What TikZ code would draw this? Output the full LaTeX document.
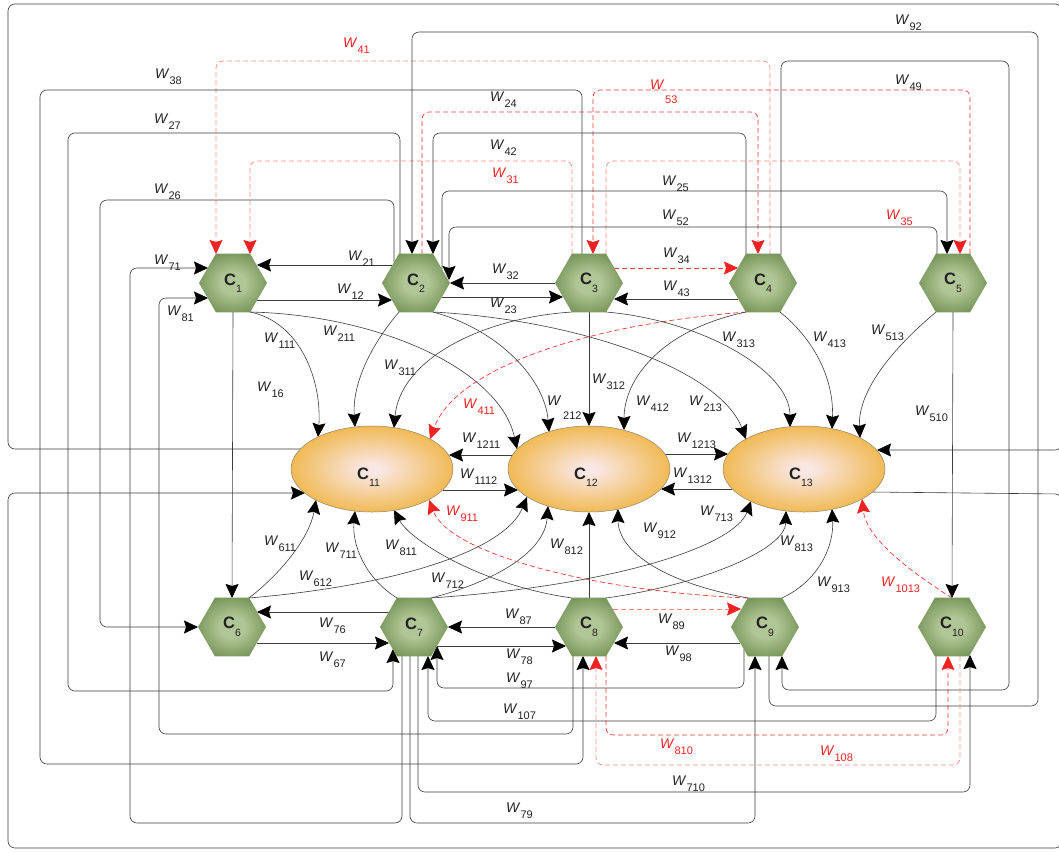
\documentclass[tikz,border=0pt]{standalone}
\usepackage{fontspec}
\setmainfont{Liberation Sans}
\usetikzlibrary{arrows.meta,calc,backgrounds,shapes.geometric}
\definecolor{hexin}{HTML}{B0C696}
\definecolor{hexout}{HTML}{5A7C3A}
\definecolor{ellin}{HTML}{FAE6E2}
\definecolor{ellout}{HTML}{EEAA22}
\definecolor{ellborder}{HTML}{8C8470}
\definecolor{lgray}{HTML}{3C3C3C}
\definecolor{dred}{HTML}{EE3B33}
\definecolor{lred}{HTML}{F58A7E}
\definecolor{ared}{HTML}{EE2222}
\definecolor{txt}{HTML}{222222}
\pgfdeclareradialshading{hexshade}{\pgfpoint{0bp}{0bp}}{color(0bp)=(hexin); color(9bp)=(hexin); color(36bp)=(hexout); color(50bp)=(hexout)}
\pgfdeclareradialshading{ellshade}{\pgfpoint{0bp}{0bp}}{color(0bp)=(ellin); color(3bp)=(ellin); color(33bp)=(ellout); color(50bp)=(ellout)}
\newcommand{\wl}[1]{\textit{W}\raisebox{-6.5pt}{\fontsize{11}{11}\selectfont #1}}
\newcommand{\clab}[1]{\textbf{C}\raisebox{-7.5pt}{\fontsize{10.5}{10}\selectfont\mdseries #1}}
\tikzset{
  hexnode/.style={regular polygon, regular polygon sides=6, minimum size=68pt, inner sep=0pt, shade, shading=hexshade, text=txt, font=\fontsize{16.5}{16}\selectfont},
  ellnode/.style={ellipse, minimum width=162pt, minimum height=86pt, inner sep=0pt, draw=ellborder, line width=0.5pt, shade, shading=ellshade},
  clbl/.style={anchor=base west, inner sep=0pt, text=txt, font=\fontsize{16.5}{16}\selectfont},
  lbl/.style={anchor=base west, inner sep=0pt, text=txt, font=\fontsize{14}{16}\selectfont},
  rlbl/.style={lbl, text=ared},
  conn/.style={draw=lgray, line width=0.6pt, rounded corners=7pt},
  rdash/.style={draw=dred, line width=0.7pt, dash pattern=on 5pt off 3pt, rounded corners=7pt},
  ldash/.style={rdash, draw=lred},
  arr/.style={-{Stealth[length=14pt,width=13pt,inset=2pt,color=black]}},
  rarr/.style={-{Stealth[length=14pt,width=13pt,inset=2pt,color=ared]}}
}
\begin{document}
\begin{tikzpicture}[x=1pt,y=-1pt]
\useasboundingbox (0,0) rectangle (1059,852);
% nodes
\node[hexnode] (C1) at (233,283) {\clab{1}};
\node[hexnode] (C2) at (416,283) {\clab{2}};
\node[hexnode] (C3) at (589,283) {\clab{3}};
\node[hexnode] (C4) at (763,283) {\clab{4}};
\node[hexnode] (C5) at (953,283) {\clab{5}};
\node[hexnode] (C6) at (232,627) {\clab{6}};
\node[hexnode] (C7) at (414,627) {\clab{7}};
\node[hexnode] (C8) at (589,627) {\clab{8}};
\node[hexnode] (C9) at (765,627) {\clab{9}};
\node[hexnode] (C10) at (952,627) {\clab{10}};
\node[ellnode] (C11) at (372,469) {};
\node[ellnode] (C12) at (589,469) {};
\node[ellnode] (C13) at (804,469) {};
\node[clbl] (L11) at ($(C11)+(-15,10)$) {\clab{11}};
\node[clbl] (L12) at ($(C12)+(-15,10)$) {\clab{12}};
\node[clbl] (L13) at ($(C13)+(-15,10)$) {\clab{13}};

\begin{pgfonlayer}{background}
\fill[white] (0,0) rectangle (1059,852);
% top row horizontals
\draw[conn,arr] ($(C2)+(-24,-18)$) -- ($(C1)+(24,-18)$);
\draw[conn,arr] ($(C1)+(24,17)$) -- ($(C2)+(-24,17)$);
\draw[conn,arr] ($(C3)+(-34,0)$) -- ($(C2)+(34,0)$);
\draw[conn,arr] ($(C2)+(26,14)$) -- ($(C3)+(-26,14)$);
\draw[rdash,rarr] ($(C3)+(25,-15)$) -- ($(C4)+(-25,-15)$);
\draw[conn,arr] ($(C4)+(-25,16)$) -- ($(C3)+(25,16)$);
% bottom row horizontals
\draw[conn,arr] ($(C7)+(-25,-15)$) -- ($(C6)+(25,-15)$);
\draw[conn,arr] ($(C6)+(25,16)$) -- ($(C7)+(-25,16)$);
\draw[conn,arr] ($(C8)+(-34,0)$) -- ($(C7)+(34,0)$);
\draw[conn,arr] ($(C7)+(23,19)$) -- ($(C8)+(-23,19)$);
\draw[ldash,rarr] ($(C8)+(24,-18)$) -- ($(C9)+(-24,-18)$);
\draw[conn,arr] ($(C9)+(-25,16)$) -- ($(C8)+(25,16)$);
% ellipse horizontals
\draw[conn,arr] ($(C12)+(-77,-14)$) -- ($(C11)+(77,-14)$);
\draw[conn,arr] ($(C11)+(71,21)$) -- ($(C12)+(-71,21)$);
\draw[conn,arr] ($(C12)+(76,-15)$) -- ($(C13)+(-76,-15)$);
\draw[conn,arr] ($(C13)+(-72,20)$) -- ($(C12)+(72,20)$);
% verticals
\draw[conn,arr] ($(C1)+(0,29)$) -- ($(C6)+(0,-29)$);
\draw[conn,arr] ($(C5)+(0,29)$) -- ($(C10)+(0,-29)$);
% curves top row -> ellipses
\draw[conn,arr] ($(C1)+(17,29)$) .. controls (300,322) and (322,380) .. ($(C11)+(-54,-32)$);
\draw[conn,arr] ($(C1)+(17,29)$) .. controls (380,315) and (500,370) .. ($(C12)+(-72,-20)$);
\draw[conn,arr] ($(C2)+(-17,29)$) .. controls (375,340) and (352,380) .. ($(C11)+(-17,-42)$);
\draw[conn,arr] ($(C3)+(-17,29)$) .. controls (480,318) and (400,360) .. ($(C11)+(22,-41)$);
\draw[rdash,rarr] ($(C4)+(-17,29)$) .. controls (580,325) and (455,370) .. ($(C11)+(58,-30)$);
\draw[conn,arr] ($(C2)+(17,29)$) .. controls (500,330) and (545,380) .. ($(C12)+(-40,-37)$);
\draw[conn,arr] ($(C3)+(0,29)$) -- ($(C12)+(0,-43)$);
\draw[conn,arr] ($(C4)+(-17,29)$) .. controls (660,330) and (624,380) .. ($(C12)+(35,-39)$);
\draw[conn,arr] ($(C2)+(17,29)$) .. controls (580,320) and (720,370) .. ($(C13)+(-58,-30)$);
\draw[conn,arr] ($(C3)+(17,29)$) .. controls (700,320) and (790,370) .. ($(C13)+(-14,-42)$);
\draw[conn,arr] ($(C4)+(17,29)$) .. controls (815,340) and (834,380) .. ($(C13)+(28,-40)$);
\draw[conn,arr] ($(C5)+(-17,29)$) .. controls (885,355) and (858,395) .. ($(C13)+(56,-31)$);
% curves bottom row -> ellipses
\draw[conn,arr] ($(C6)+(17,-29)$) .. controls (285,570) and (310,535) .. ($(C11)+(-56,31)$);
\draw[conn,arr] ($(C6)+(17,-29)$) .. controls (400,585) and (505,550) .. ($(C12)+(-62,28)$);
\draw[conn,arr] ($(C7)+(-17,-29)$) .. controls (365,578) and (352,545) .. ($(C11)+(-17,42)$);
\draw[conn,arr] ($(C7)+(17,-29)$) .. controls (500,580) and (545,550) .. ($(C12)+(-41,37)$);
\draw[conn,arr] ($(C7)+(17,-29)$) .. controls (620,585) and (735,545) .. ($(C13)+(-53,32)$);
\draw[conn,arr] ($(C8)+(-17,-29)$) .. controls (480,585) and (410,540) .. ($(C11)+(22,41)$);
\draw[conn,arr] ($(C8)+(0,-29)$) -- ($(C12)+(0,43)$);
\draw[conn,arr] ($(C8)+(17,-29)$) .. controls (700,585) and (785,550) .. ($(C13)+(-18,42)$);
\draw[rdash,rarr] ($(C9)+(-17,-29)$) .. controls (600,592) and (450,555) .. ($(C11)+(57,31)$);
\draw[conn,arr] ($(C9)+(-17,-29)$) .. controls (650,580) and (618,545) .. ($(C12)+(29,40)$);
\draw[conn,arr] ($(C9)+(17,-29)$) .. controls (820,580) and (834,545) .. ($(C13)+(28,40)$);
\draw[rdash,rarr] ($(C10)+(0,-29)$) .. controls (900,565) and (866,535) .. ($(C13)+(58,30)$);
% routed connectors above
\draw[ldash,rarr] ($(C4)+(7,-29)$) -- (770,61) -- (216,61) -- ($(C1)+(-17,-29)$);
\draw[ldash,rarr] ($(C3)+(-17,-29)$) -- (572,161) -- (250,161) -- ($(C1)+(17,-29)$);
\draw[conn,arr] ($(C9)+(4,29)$) -- (769,706) -- (1038,706) -- (1038,32) -- (412,32) -- ($(C2)+(-4,-29)$);
\draw[conn,arr] ($(C3)+(-7,-29)$) -- (582,90) -- (40,90) -- (40,764) -- (583,764) -- ($(C8)+(-6,29)$);
\draw[rdash,rarr] ($(C5)+(17,-29)$) -- (970,90) -- (593,90) -- ($(C3)+(4,-29)$);
\draw[rdash,rarr] ($(C2)+(6,-29)$) -- (422,112) -- (758,112) -- ($(C4)+(-5,-29)$);
\draw[conn,arr] ($(C2)+(-16,-29)$) -- (400,133) -- (68,133) -- (68,691) -- (393,691) -- ($(C7)+(-21,22)$);
\draw[conn,arr] ($(C4)+(-17,-29)$) -- (746,133) -- (433,133) -- ($(C2)+(17,-29)$);
\draw[ldash,rarr] ($(C3)+(17,-29)$) -- (606,161) -- (960,161) -- ($(C5)+(7,-29)$);
\draw[conn,arr] ($(C2)+(26,-14)$) -- (442,191) -- (947,191) -- ($(C5)+(-6,-29)$);
\draw[conn,arr] ($(C4)+(18,-28)$) -- (781,61) -- (1009,61) -- (1009,690) -- (782,690) -- ($(C9)+(17,29)$);
\draw[conn,arr] ($(C5)+(-16,-29)$) -- (937,227) -- (449,227) -- ($(C2)+(33,-3)$);
\draw[conn,arr] ($(C2)+(-22,-21)$) -- (394,200) -- (100,200) -- (100,627) -- ($(C6)+(-34,0)$);
% routed connectors below
\draw[conn,arr] ($(C7)+(-12,29)$) -- (402,823) -- (130,823) -- (130,268) -- ($(C1)+(-25,-15)$);
\draw[conn,arr] ($(C8)+(-16,29)$) -- (573,734) -- (159,734) -- (159,298) -- ($(C1)+(-25,15)$);
\draw[conn,arr] ($(C7)+(-4,29)$) -- (410,823) -- (755,823) -- ($(C9)+(-10,29)$);
\draw[conn,arr] ($(C7)+(4,29)$) -- (418,792) -- (970,792) -- ($(C10)+(18,28)$);
\draw[conn,arr] ($(C10)+(-16,29)$) -- (936,721) -- (428,721) -- ($(C7)+(14,29)$);
\draw[conn,arr] ($(C9)+(-21,22)$) -- (744,688) -- (437,688) -- ($(C7)+(23,19)$);
\draw[ldash,rarr] ($(C10)+(8,29)$) -- (960,765) -- (596,765) -- ($(C8)+(7,29)$);
\draw[rdash,rarr] ($(C8)+(17,29)$) -- (606,735) -- (948,735) -- ($(C10)+(-4,29)$);
% outer frame connectors
\draw[conn,arr] ($(C11)+(-72,-20)$) -- (8,449) -- (8,4) -- (1062,4) -- (1062,450) -- ($(C13)+(73,-19)$);
\draw[conn,arr] ($(C13)+(68,23)$) -- (1062,494) -- (1062,848) -- (8,848) -- (8,493) -- ($(C11)+(-67,24)$);
\end{pgfonlayer}

% labels
\node[rlbl] (w41) at (343,47) {\wl{41}};
\node[lbl] (w38) at (155,78) {\wl{38}};
\node[lbl] (w24) at (490,101) {\wl{24}};
\node[lbl] (w27) at (154,123) {\wl{27}};
\node[lbl] (w42) at (490,149) {\wl{42}};
\node[rlbl] (w31) at (492,177) {\wl{31}};
\node[lbl] (w26) at (154,193) {\wl{26}};
\node[lbl] (w71) at (154,264) {\wl{71}};
\node[lbl] (w21) at (348,260) {\wl{21}};
\node[lbl] (w12) at (337,293) {\wl{12}};
\node[lbl] (w81) at (167,315) {\wl{81}};
\node[lbl] (w32) at (492,273) {\wl{32}};
\node[lbl] (w23) at (490,307) {\wl{23}};
\node[lbl] (w34) at (663,257) {\wl{34}};
\node[lbl] (w43) at (663,290) {\wl{43}};
\node[rlbl] (w53a) at (650,89) {\textit{W}};
\node[rlbl,font=\fontsize{11}{11}\selectfont] (w53b) at (665,103) {53};
\node[lbl] (w49) at (895,84) {\wl{49}};
\node[lbl] (w92) at (895,24) {\wl{92}};
\node[lbl] (w25) at (662,185) {\wl{25}};
\node[lbl] (w52) at (662,219) {\wl{52}};
\node[rlbl] (w35) at (886,219) {\wl{35}};
\node[lbl] (w111) at (264,342) {\wl{111}};
\node[lbl] (w211) at (323,335) {\wl{211}};
\node[lbl] (w16) at (257,391) {\wl{16}};
\node[lbl] (w311) at (384,369) {\wl{311}};
\node[rlbl] (w411) at (463,408) {\wl{411}};
\node[lbl] (w1211) at (462,442) {\wl{1211}};
\node[lbl] (w1112) at (460,478) {\wl{1112}};
\node[rlbl] (w911) at (446,515) {\wl{911}};
\node[lbl] (w611) at (264,545) {\wl{611}};
\node[lbl] (w711) at (325,552) {\wl{711}};
\node[lbl] (w811) at (385,549) {\wl{811}};
\node[lbl] (w612) at (299,580) {\wl{612}};
\node[lbl] (w712) at (431,582) {\wl{712}};
\node[lbl] (w76) at (319,627) {\wl{76}};
\node[lbl] (w67) at (319,661) {\wl{67}};
\node[lbl] (w87) at (505,618) {\wl{87}};
\node[lbl] (w78) at (506,658) {\wl{78}};
\node[lbl] (w97) at (506,682) {\wl{97}};
\node[lbl] (w107) at (503,713) {\wl{107}};
\node[lbl] (w79) at (506,812) {\wl{79}};
\node[lbl] (w89) at (658,623) {\wl{89}};
\node[lbl] (w98) at (665,655) {\wl{98}};
\node[rlbl] (w810) at (660,748) {\wl{810}};
\node[rlbl] (w108) at (820,755) {\wl{108}};
\node[lbl] (w710) at (672,785) {\wl{710}};
\node[lbl] (w812) at (550,548) {\wl{812}};
\node[lbl] (w912) at (643,532) {\wl{912}};
\node[lbl] (w713) at (700,515) {\wl{713}};
\node[lbl] (w813) at (780,545) {\wl{813}};
\node[lbl] (w913) at (817,586) {\wl{913}};
\node[rlbl] (w1013) at (881,586) {\wl{1013}};
\node[lbl] (w313) at (722,341) {\wl{313}};
\node[lbl] (w413) at (813,341) {\wl{413}};
\node[lbl] (w513) at (871,334) {\wl{513}};
\node[lbl] (w312) at (592,383) {\wl{312}};
\node[lbl] (w212a) at (547,405) {\textit{W}};
\node[lbl,font=\fontsize{11}{11}\selectfont] (w212b) at (563,419) {212};
\node[lbl] (w412) at (636,405) {\wl{412}};
\node[lbl] (w213) at (689,405) {\wl{213}};
\node[lbl] (w1213) at (677,442) {\wl{1213}};
\node[lbl] (w1312) at (673,477) {\wl{1312}};
\node[lbl] (w510) at (915,415) {\wl{510}};
\end{tikzpicture}
\end{document}
